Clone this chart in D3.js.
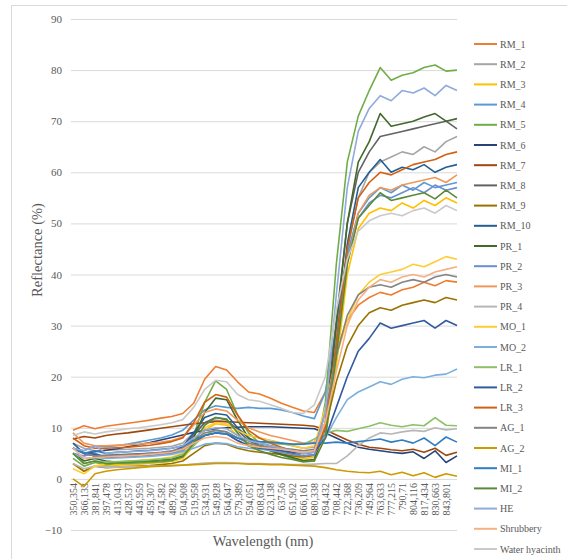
<!DOCTYPE html>
<html>
<head>
<meta charset="utf-8">
<script src="https://cdn.jsdelivr.net/npm/d3@7"></script>
<style>
  body { margin: 0; background: #fff; }
  svg text { fill: #595959; }
</style>
</head>
<body>
<div id="chart"></div>
<script>
// tick labels of the category axis (wavelengths as printed)
var wavelengths = ["350,354", "366,133", "381,841", "397,478", "413,043", "428,537", "443,959",
  "459,307", "474,582", "489,782", "504,908", "519,958", "534,931", "549,828", "564,647",
  "579,389", "594,051", "608,634", "623,138", "637,56", "651,902", "666,161", "680,338",
  "694,432", "708,442", "722,368", "736,209", "749,964", "763,633", "777,215", "790,71",
  "804,116", "817,434", "830,663", "843,801"];

var yTicks = [-10, 0, 10, 20, 30, 40, 50, 60, 70, 80, 90];

var names = ["RM_1", "RM_2", "RM_3", "RM_4", "RM_5", "RM_6", "RM_7", "RM_8", "RM_9", "RM_10",
  "PR_1", "PR_2", "PR_3", "PR_4", "MO_1", "MO_2", "LR_1", "LR_2", "LR_3", "AG_1", "AG_2",
  "MI_1", "MI_2", "HE", "Shrubbery", "Water hyacinth"];

var colors = ["#ED7D31", "#A5A5A5", "#FFC000", "#5B9BD5", "#70AD47", "#264478", "#9E480E",
  "#636363", "#997300", "#255E91", "#43682B", "#698ED0", "#F1975A", "#B7B7B7", "#FFCD33",
  "#7CAFDD", "#8CC168", "#335AA1", "#D26012", "#848484", "#CC9A00", "#327DC2", "#5A8A39",
  "#8FAADC", "#F4B183", "#C9C9C9"];

// reflectance (%) per series, one value per wavelength step (last one past the final label)
var rm1 = [9.5,10.4,9.8,10.3,10.6,10.9,11.2,11.5,11.9,12.2,12.8,14.8,19.5,22,21.3,19,17,16.6,15.8,14.8,14,13.3,13, 17,25,31,34,35.5,36.5,36,37,37.5,38.5,37.8,38.8,38.5];
var rm2 = [7,6,5.5,5.6,5.7,5.8,5.9,6,6.2,6.4,7,9,11,11.5,11.2,9.8,8.5,8,7.5,7,6.5,6,6.2, 11,28,45,55,60,62,63,64,63.5,65,64,66,67];
var rm3 = [3,1.5,2.5,2.6,2.7,2.8,2.9,3,3.2,3.4,4,6.5,9.5,10.8,10.5,8.5,7,6.2,5.6,5,4.5,4,4.2, 8,22,40,49,52,53,52.5,54,53,54.5,53.5,55,54];
var rm4 = [6,5.5,6.5,6.3,6.5,6.8,7.2,7.6,8,8.6,9.5,11.5,13.5,14.3,14,13.8,14,13.8,13.8,13.5,13,12.3,11.8, 17,30,44,52,55,57,56,57.5,56.5,58,57,57.5,58];
var rm5 = [4,2.5,3.2,2.8,3,3,3.1,3.2,3.3,3.5,4.5,8.5,15,19.2,17.5,12.5,9,7,5.5,4.7,4,3.5,3.5, 15,42,62,71,76,80.5,78,79,79.5,80.5,81,79.8,80];
var rm6 = [6,5,5.3,5.6,5.9,6.3,6.7,7.1,7.6,8.1,8.6,9.1,9.5,9.8,10,10.1,10.2,10.2,10.2,10.1,10,9.9,9.8, 9,8,7,6.2,5.8,5.5,5.2,5,5.3,4,5.5,3.2,4.5];
var rm7 = [7.8,8.3,8,8.5,8.8,9,9.3,9.6,9.9,10.2,10.5,10.8,11,11.2,11.2,11.1,11,10.9,10.8,10.7,10.6,10.5,10.3, 9.6,8.6,7.6,6.8,6.2,6,5.7,5.5,5.8,5.2,6,4.6,5.2];
var rm8 = [6,5,4.5,4.6,4.7,4.8,4.9,5,5.1,5.3,6,8.5,11,12,11.6,9.5,7.5,6.5,6,5.5,5,4.5,4.7, 11,31,50,60,64,67,67.5,68,68.5,69,69.5,70,68.5];
var rm9 = [3,1.5,2.5,2.2,2.3,2.4,2.5,2.6,2.8,3,3.5,5,6.5,7,6.8,6,5.5,5.2,5,4.8,4.5,4.3,4.6, 10,19,26,30,32.5,33.5,33,34,34.5,35,34.5,35.5,35];
var rm10 = [7,5,4.5,4.4,4.5,4.6,4.7,4.8,5,5.3,6.3,9,12,12.8,12.5,10,8,7,6.5,6,5.5,5,5.2, 9,26,46,57,60,62.5,60,61,60.5,61.5,60,61,61.5];
var pr1 = [5,3.5,4,3.5,3.3,3.4,3.5,3.6,3.7,3.9,4.5,8,13,15.8,15.5,11.5,8,6.5,5.5,4.8,4.2,3.6,3.8, 10,30,50,62,66,71.5,69,69.5,70,70.8,71.5,70,70.5];
var pr2 = [5,4.5,5,4.2,4.3,4.4,4.5,4.6,4.8,5,5.5,7,8.5,9,8.8,7.5,6.5,6,5.5,5.2,4.8,4.5,4.7, 9,25,43,51,54,55.5,55,56,57,56,57.5,56.5,57];
var pr3 = [9,7,6.5,6.5,6.6,6.7,6.8,7,7.2,7.5,8.2,10.5,13,13.7,13.3,11.5,10,9.2,8.5,8,7.5,7,7.2, 11,25,42,52,55.5,57,56.5,57.5,58,58.5,59,58,59.5];
var pr4 = [3,2,2.5,2.3,2.3,2.4,2.4,2.5,2.5,2.6,2.7,2.9,3.1,3.2,3.2,3.1,3,3,2.9,2.9,2.8,2.8,2.9, 3,3,4.5,6.5,8,9,8.8,9.2,9.5,9.3,10,9.6,9.8];
var mo1 = [2,1,2.5,3,3.2,3.4,3.6,3.8,4,4.3,5,7.5,10,11,10.8,9.5,8.5,8,7.5,7,6.5,6,6.5, 14,24,31,36,38.5,40,40.5,41,42,41.5,42.5,43.5,43];
var mo2 = [5,4,4.2,4,4.1,4.2,4.3,4.4,4.6,4.8,5.3,6,6.8,7,6.9,6.3,6,5.8,5.6,5.5,5.3,5.2,5.5, 8,12,15.5,17,18,19,18.5,19.5,20,19.8,20.3,20.5,21.5];
var lr1 = [5,3,3.5,3.3,3.4,3.5,3.6,3.7,3.9,4.1,4.8,6.5,8.5,9.5,9.2,8,7.5,7.2,7,6.8,6.7,6.8,7.8, 9,9.5,9.3,9.8,10.3,11,10.5,10.2,10.6,10.4,12,10.5,10.4];
var lr2 = [6,5,4.8,4.3,4.4,4.5,4.6,4.8,5,5.2,5.8,7,8.5,9,8.8,7.5,6.5,6,5.8,5.5,5.2,5,5.3, 8,14,20,25,27.5,30.5,29.5,30,30.5,31,29.5,31,30];
var lr3 = [8,6.5,6,6,6.1,6.2,6.4,6.6,6.9,7.3,8,11,15,16.5,16,12.5,9.5,8,7,6.2,5.5,5,5.3, 10,26,45,55,58,60,59.5,60.5,61.5,62,62.5,63.5,64];
var ag1 = [6,5,4.5,4.5,4.6,4.7,4.8,5,5.2,5.5,6,7.5,9,9.5,9.2,8,7,6.5,6.2,6,5.8,5.5,5.8, 13,24,32,36,37.5,38,37.5,38.5,39,38.5,39.5,40,39.5];
var ag2 = [0,-1.5,1,1.5,1.8,2,2.2,2.4,2.5,2.6,2.7,2.8,2.9,3,3,3,2.9,2.9,2.8,2.8,2.7,2.6,2.5, 2.2,1.8,1.5,1.3,1.2,1.5,0.8,1.3,0.6,1.2,0.3,1,0.5];
var mi1 = [6,5,5.5,5,5.2,5.3,5.5,5.6,5.8,6,6.5,7.5,8.5,9,8.8,8,7.5,7.3,7.2,7,6.8,6.8,7, 7,7.2,7,7.3,7.5,7.8,7.2,7.6,7,8,6.5,8.2,7.2];
var mi2 = [5,3,3.5,3,3.1,3.2,3.3,3.4,3.5,3.7,4.3,7,10.5,12,11.7,9,6.5,5.5,4.8,4.2,3.8,3.3,3.5, 8,24,42,51,53.5,56,54.5,55,55.5,56,54.8,56.5,55];
var he = [6,5.5,6.5,5,5.2,5.3,5.4,5.5,5.7,6,6.5,8,9.5,10,9.8,8.5,7.5,7,6.5,6,5.5,5,5.2, 13,36,57,68,72.5,75,74,76,75.5,76.5,75,77,76];
var shrubbery = [6,4,4.2,4.3,4.4,4.5,4.6,4.8,5,5.2,5.8,7,8,8.3,8,7,6.5,6.2,6,5.8,5.5,5.2,5.5, 11,21,30,35,37.5,39,38.5,39.5,40,39.5,40.5,41,41.5];
var waterHyacinth = [8.5,9.2,8.8,9.2,9.5,9.8,10,10.3,10.6,11,11.6,14,17.5,19.3,19,16.5,15.5,15.2,14.5,13.8,13,12.8,14.5, 20,33,43,48.5,50.5,51.5,52,51.5,52.5,53,52,53.5,52.5];

var values = [rm1, rm2, rm3, rm4, rm5, rm6, rm7, rm8, rm9, rm10, pr1, pr2, pr3, pr4,
  mo1, mo2, lr1, lr2, lr3, ag1, ag2, mi1, mi2, he, shrubbery, waterHyacinth];

var serif = "'Liberation Serif', 'Times New Roman', serif";

// chart setup
var svgWidth = 567;
var svgHeight = 559;
var plot = { left: 71, right: 457, top: 19, bottom: 530 };

var svg = d3.select("#chart")
  .append("svg")
  .attr("width", svgWidth)
  .attr("height", svgHeight);

// chart area frame
svg.append("rect")
  .attr("x", 11.5).attr("y", 5.5)
  .attr("width", 600).attr("height", 600)
  .attr("fill", "none")
  .attr("stroke", "#d9d9d9");

var xScale = d3.scaleLinear().domain([0, 35]).range([73, plot.right]);
var yScale = d3.scaleLinear().domain([-10, 90]).range([plot.bottom, plot.top]);

// y axis with gridlines
var yAxis = svg.append("g")
  .attr("transform", "translate(" + plot.left + ",0)")
  .call(d3.axisLeft(yScale).tickValues(yTicks).tickSize(-(plot.right - plot.left)).tickPadding(9));
yAxis.select(".domain").remove();
yAxis.selectAll("line").attr("stroke", "#d9d9d9");
yAxis.selectAll("text")
  .style("font-family", serif)
  .style("font-size", "11px")
  .style("fill", "#595959");

// x axis category labels, rotated
var xAxis = svg.append("g")
  .attr("transform", "translate(0," + yScale(0) + ")")
  .call(d3.axisBottom(xScale)
    .tickValues(d3.range(wavelengths.length))
    .tickFormat(function(i){ return wavelengths[i]; })
    .tickSize(0));
xAxis.select(".domain").remove();
xAxis.selectAll("text")
  .style("font-family", serif)
  .style("font-size", "10px")
  .style("fill", "#595959")
  .attr("transform", "rotate(-90)")
  .attr("x", -4)
  .attr("y", 0)
  .attr("dy", "0.35em")
  .style("text-anchor", "end");

// the lines
var line = d3.line()
  .x(function(d, i){ return xScale(i); })
  .y(function(d){ return yScale(d); });

svg.append("g")
  .selectAll("path")
  .data(values)
  .enter().append("path")
  .attr("d", line)
  .attr("fill", "none")
  .attr("stroke", function(d, i){ return colors[i]; })
  .attr("stroke-width", 1.6)
  .attr("stroke-linejoin", "round");

// axis titles
svg.append("text")
  .attr("x", 263).attr("y", 546)
  .style("font-family", serif)
  .style("font-size", "14.5px")
  .style("text-anchor", "middle")
  .text("Wavelength (nm)");

svg.append("text")
  .attr("transform", "translate(42,250) rotate(-90)")
  .style("font-family", serif)
  .style("font-size", "14.5px")
  .style("text-anchor", "middle")
  .text("Reflectance (%)");

// legend
var legend = svg.append("g")
  .selectAll("g")
  .data(names)
  .enter().append("g")
  .attr("transform", function(d, i){ return "translate(474," + (44 + i * 20.2) + ")"; });

legend.append("line")
  .attr("x1", 0).attr("x2", 23)
  .attr("stroke", function(d, i){ return colors[i]; })
  .attr("stroke-width", 2);

legend.append("text")
  .attr("x", 26)
  .attr("dy", "0.35em")
  .style("font-family", serif)
  .style("font-size", "10px")
  .text(function(d){ return d; });
</script>
</body>
</html>
